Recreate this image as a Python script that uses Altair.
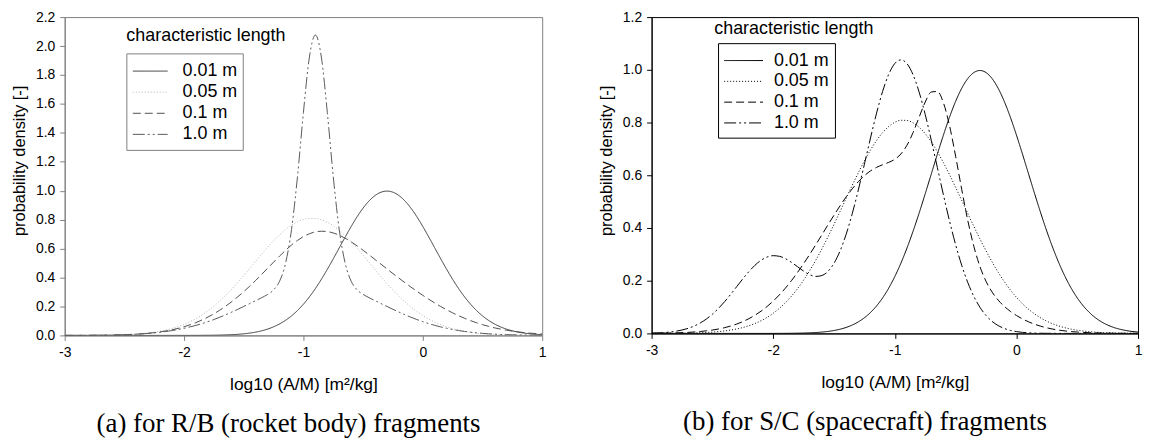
import altair as alt
import pandas as pd

# ---------------- data ----------------
X = [-3.00, -2.95, -2.90, -2.85, -2.80, -2.75, -2.70, -2.65, -2.60, -2.55,
     -2.50, -2.45, -2.40, -2.35, -2.30, -2.25, -2.20, -2.15, -2.10, -2.05,
     -2.00, -1.95, -1.90, -1.85, -1.80, -1.75, -1.70, -1.65, -1.60, -1.55,
     -1.50, -1.45, -1.40, -1.35, -1.30, -1.25, -1.20, -1.15, -1.10, -1.05,
     -1.00, -0.95, -0.90, -0.85, -0.80, -0.75, -0.70, -0.65, -0.60, -0.55,
     -0.50, -0.45, -0.40, -0.35, -0.30, -0.25, -0.20, -0.15, -0.10, -0.05,
     0.00, 0.05, 0.10, 0.15, 0.20, 0.25, 0.30, 0.35, 0.40, 0.45,
     0.50, 0.55, 0.60, 0.65, 0.70, 0.75, 0.80, 0.85, 0.90, 0.95,
     1.00]

# 0.01 m (same in both panels)
LC_001 = [0, 0, 0, 0, 0, 0, 0, 0, 0, 0,
          0, 0, 0, 0, 0, 0, 0, 0, 0, 0.0001,
          0.0001, 0.0002, 0.0003, 0.0005, 0.0009, 0.0014, 0.0022, 0.0034, 0.0051, 0.0075,
          0.0111, 0.0160, 0.0227, 0.0318, 0.0438, 0.0594, 0.0794, 0.1043, 0.1350, 0.1719,
          0.2157, 0.2664, 0.3238, 0.3876, 0.4566, 0.5297, 0.6049, 0.6801, 0.7528, 0.8205,
          0.8802, 0.9297, 0.9667, 0.9896, 0.9974, 0.9896, 0.9667, 0.9297, 0.8802, 0.8205,
          0.7528, 0.6801, 0.6049, 0.5297, 0.4566, 0.3876, 0.3238, 0.2664, 0.2157, 0.1719,
          0.1350, 0.1043, 0.0794, 0.0594, 0.0438, 0.0318, 0.0227, 0.0160, 0.0111, 0.0075,
          0.0051]

# 0.05 m (same in both panels)
LC_005 = [0.0001, 0.0002, 0.0003, 0.0004, 0.0006, 0.0009, 0.0013, 0.0018, 0.0026, 0.0036,
          0.0050, 0.0069, 0.0094, 0.0127, 0.0169, 0.0223, 0.0292, 0.0377, 0.0482, 0.0610,
          0.0764, 0.0948, 0.1163, 0.1413, 0.1699, 0.2022, 0.2382, 0.2777, 0.3205, 0.3660,
          0.4138, 0.4629, 0.5127, 0.5620, 0.6097, 0.6546, 0.6958, 0.7318, 0.7620, 0.7852,
          0.8009, 0.8085, 0.8078, 0.7989, 0.7819, 0.7576, 0.7264, 0.6894, 0.6477, 0.6022,
          0.5541, 0.5048, 0.4550, 0.4061, 0.3586, 0.3135, 0.2712, 0.2322, 0.1968, 0.1651,
          0.1371, 0.1126, 0.0917, 0.0738, 0.0588, 0.0464, 0.0362, 0.0280, 0.0214, 0.0162,
          0.0121, 0.0090, 0.0066, 0.0048, 0.0034, 0.0025, 0.0017, 0.0012, 0.0008, 0.0006,
          0.0004]

# (a) rocket body, 0.1 m
RB_01 = [0.0001, 0.0002, 0.0003, 0.0005, 0.0007, 0.0010, 0.0013, 0.0018, 0.0025, 0.0035,
         0.0047, 0.0063, 0.0085, 0.0112, 0.0147, 0.0190, 0.0244, 0.0309, 0.0390, 0.0485,
         0.0599, 0.0733, 0.0887, 0.1065, 0.1268, 0.1495, 0.1749, 0.2029, 0.2336, 0.2670,
         0.3025, 0.3404, 0.3803, 0.4217, 0.4640, 0.5064, 0.5481, 0.5880, 0.6246, 0.6566,
         0.6830, 0.7028, 0.7153, 0.7202, 0.7176, 0.7081, 0.6925, 0.6715, 0.6465, 0.6183,
         0.5882, 0.5568, 0.5244, 0.4919, 0.4595, 0.4273, 0.3957, 0.3646, 0.3344, 0.3052,
         0.2770, 0.2499, 0.2242, 0.1998, 0.1770, 0.1558, 0.1362, 0.1183, 0.1020, 0.0874,
         0.0743, 0.0628, 0.0526, 0.0438, 0.0361, 0.0296, 0.0241, 0.0194, 0.0156, 0.0124,
         0.0097]

# (a) rocket body, 1.0 m
RB_10 = [0.0002, 0.0004, 0.0005, 0.0007, 0.0009, 0.0013, 0.0017, 0.0023, 0.0031, 0.0040,
         0.0053, 0.0068, 0.0088, 0.0112, 0.0142, 0.0179, 0.0222, 0.0274, 0.0336, 0.0408,
         0.0491, 0.0587, 0.0695, 0.0816, 0.0951, 0.1098, 0.1258, 0.1430, 0.1613, 0.1803,
         0.2001, 0.2200, 0.2402, 0.2606, 0.2832, 0.3148, 0.3745, 0.4978, 0.7311, 1.0965,
         1.5417, 1.9239, 2.0764, 1.9239, 1.5417, 1.0965, 0.7311, 0.4978, 0.3745, 0.3148,
         0.2832, 0.2606, 0.2402, 0.2200, 0.2001, 0.1803, 0.1613, 0.1430, 0.1258, 0.1098,
         0.0951, 0.0816, 0.0695, 0.0587, 0.0491, 0.0408, 0.0336, 0.0274, 0.0222, 0.0179,
         0.0142, 0.0112, 0.0088, 0.0068, 0.0053, 0.0040, 0.0031, 0.0023, 0.0017, 0.0013,
         0.0009]

# (b) spacecraft, 0.1 m
SC_01 = [0.0005, 0.0007, 0.0011, 0.0015, 0.0021, 0.0029, 0.0039, 0.0054, 0.0073, 0.0098,
         0.0128, 0.0168, 0.0218, 0.0280, 0.0356, 0.0448, 0.0559, 0.0690, 0.0844, 0.1023,
         0.1227, 0.1459, 0.1717, 0.2002, 0.2313, 0.2646, 0.2997, 0.3364, 0.3738, 0.4116,
         0.4486, 0.4843, 0.5180, 0.5486, 0.5757, 0.5984, 0.6164, 0.6299, 0.6399, 0.6489,
         0.6607, 0.6807, 0.7139, 0.7618, 0.8204, 0.8776, 0.9158, 0.9180, 0.8745, 0.7880,
         0.6722, 0.5467, 0.4287, 0.3301, 0.2538, 0.1977, 0.1568, 0.1264, 0.1028, 0.0838,
         0.0681, 0.0550, 0.0439, 0.0348, 0.0273, 0.0212, 0.0163, 0.0124, 0.0094, 0.0070,
         0.0052, 0.0038, 0.0028, 0.0020, 0.0014, 0.0010, 0.0007, 0.0004, 0.0003, 0.0002,
         0.0001]

# (b) spacecraft, 1.0 m
SC_10 = [0.0011, 0.0019, 0.0032, 0.0053, 0.0084, 0.0128, 0.0192, 0.0280, 0.0396, 0.0545,
         0.0730, 0.0950, 0.1203, 0.1481, 0.1775, 0.2069, 0.2345, 0.2586, 0.2775, 0.2898,
         0.2949, 0.2926, 0.2837, 0.2697, 0.2531, 0.2365, 0.2230, 0.2162, 0.2195, 0.2353,
         0.2662, 0.3132, 0.3764, 0.4544, 0.5443, 0.6419, 0.7413, 0.8358, 0.9185, 0.9831,
         1.0240, 1.0378, 1.0233, 0.9814, 0.9154, 0.8305, 0.7329, 0.6291, 0.5251, 0.4264,
         0.3368, 0.2587, 0.1932, 0.1403, 0.0992, 0.0681, 0.0455, 0.0297, 0.0188, 0.0115,
         0.0069, 0.0040, 0.0023, 0.0012, 0.0007, 0.0004, 0.0002, 0.0001, 0, 0,
         0, 0, 0, 0, 0, 0, 0, 0, 0, 0,
         0]

LENGTHS = ["0.01 m", "0.05 m", "0.1 m", "1.0 m"]
X_TICKS = [-3, -2, -1, 0, 1]
Y_TICKS_A = [0.0, 0.2, 0.4, 0.6, 0.8, 1.0, 1.2, 1.4, 1.6, 1.8, 2.0, 2.2]
Y_TICKS_B = [0.0, 0.2, 0.4, 0.6, 0.8, 1.0, 1.2]
LEGEND_TITLE = "characteristic length"
X_TITLE = "log10 (A/M) [m²/kg]"
Y_TITLE = "probability density [-]"
CAPTION_A = "(a) for R/B (rocket body) fragments"
CAPTION_B = "(b) for S/C (spacecraft) fragments"

FONT = "Liberation Sans"
SERIF = "Liberation Serif"
DASHES = [[1, 0], [1, 2], [8, 4], [12, 3, 2, 3, 2, 3]]


def long_df(series):
    rows = []
    for name, vals in zip(LENGTHS, series):
        for xv, yv in zip(X, vals):
            rows.append({"x": xv, "y": yv, "length": name})
    return pd.DataFrame(rows)


def legend_layers(colors, frame, box, rows_y, sym_x, lab_x, title_xy):
    """Boxed legend drawn in the plot's pixel space, title above the box."""
    layers = []
    one = pd.DataFrame({"k": [0]})
    bx0, by0, bx1, by1 = box
    layers.append(
        alt.Chart(one).mark_rect(fill="white", stroke=frame, strokeWidth=1).encode(
            x=alt.value(bx0), x2=alt.value(bx1), y=alt.value(by0), y2=alt.value(by1))
    )
    for name, col, dash, yy in zip(LENGTHS, colors, DASHES, rows_y):
        layers.append(
            alt.Chart(one).mark_rule(strokeWidth=1).encode(
                x=alt.value(sym_x[0]), x2=alt.value(sym_x[1]), y=alt.value(yy),
                color=alt.value(col), strokeDash=alt.value(dash))
        )
        layers.append(
            alt.Chart(pd.DataFrame({"t": [name]})).mark_text(
                align="left", baseline="middle", font=FONT, fontSize=18,
                color="black").encode(
                x=alt.value(lab_x), y=alt.value(yy), text="t:N")
        )
    layers.append(
        alt.Chart(pd.DataFrame({"t": [LEGEND_TITLE]})).mark_text(
            align="left", baseline="middle", font=FONT, fontSize=18,
            color="black").encode(
            x=alt.value(title_xy[0]), y=alt.value(title_xy[1]), text="t:N")
    )
    return layers


def panel(df, ymax, yticks, colors, frame, legend, caption, cap_dx,
          height, width):
    x_axis = alt.Axis(
        values=X_TICKS, labelExpr="datum.value + ''", title=X_TITLE,
        titleFont=FONT, titleFontSize=17.5, titleFontWeight="normal",
        titleColor="black", titlePadding=16, labelFont=FONT,
        labelFontSize=14, labelColor="black", labelPadding=5, tickSize=5,
        domainColor=frame, tickColor=frame, grid=False, labelFlush=False,
        labelOverlap=False,
    )
    y_axis = alt.Axis(
        values=yticks, format=".1f", title=Y_TITLE, titleFont=FONT,
        titleFontSize=16.5, titleFontWeight="normal", titleColor="black",
        titlePadding=8, titleY=144, labelFont=FONT, labelFontSize=14,
        labelColor="black", labelPadding=5, tickSize=5, domainColor=frame,
        tickColor=frame, grid=False, labelOverlap=False,
    )
    lines = alt.Chart(df).mark_line(strokeWidth=1, interpolate="monotone",
                                    clip=True).encode(
        x=alt.X("x:Q", scale=alt.Scale(domain=[-3, 1], nice=False, zero=False),
                axis=x_axis),
        y=alt.Y("y:Q", scale=alt.Scale(domain=[0, ymax], nice=False),
                axis=y_axis),
        color=alt.Color("length:N", scale=alt.Scale(domain=LENGTHS, range=colors),
                        legend=None),
        strokeDash=alt.StrokeDash("length:N",
                                  scale=alt.Scale(domain=LENGTHS, range=DASHES),
                                  legend=None),
    )
    return alt.layer(lines, *legend).properties(
        width=width, height=height,
        view=alt.ViewBackground(stroke=frame, strokeWidth=1),
        title=alt.TitleParams(
            text=caption, orient="bottom", font=SERIF, fontSize=27,
            fontWeight="normal", color="black", offset=19, anchor="middle",
            dx=cap_dx,
        ),
    )


df_a = long_df([LC_001, LC_005, RB_01, RB_10])
df_b = long_df([LC_001, LC_005, SC_01, SC_10])

COLORS_A = ["#3c3c3c", "#b4b4b4", "#505050", "#5a5a5a"]
COLORS_B = ["#000000", "#000000", "#000000", "#000000"]

legend_a = legend_layers(COLORS_A, "#808080", (62.5, 37, 179.5, 134),
                         [54.3, 75.5, 96.7, 117.9], (68.5, 103.5), 118.5,
                         (62, 19))
legend_b = legend_layers(COLORS_B, "#000000", (67.3, 26.7, 184.8, 121.7),
                         [43.7, 64.6, 85.5, 106.4], (73, 112), 123,
                         (63, 12))

left = panel(df_a, 2.2, Y_TICKS_A, COLORS_A, "#808080", legend_a,
             CAPTION_A, -15, 320, 480)
right = panel(df_b, 1.2, Y_TICKS_B, COLORS_B, "#000000", legend_b,
              CAPTION_B, -30, 318, 489)

chart = alt.hconcat(left, right, spacing=51).resolve_scale(
    color="independent", strokeDash="independent"
).properties(
    padding={"left": 3, "top": 0, "right": 0, "bottom": 0}
).configure(font=FONT).configure_view(strokeWidth=1)

chart.save("out.html", embed_options={"renderer": "svg", "actions": False})
